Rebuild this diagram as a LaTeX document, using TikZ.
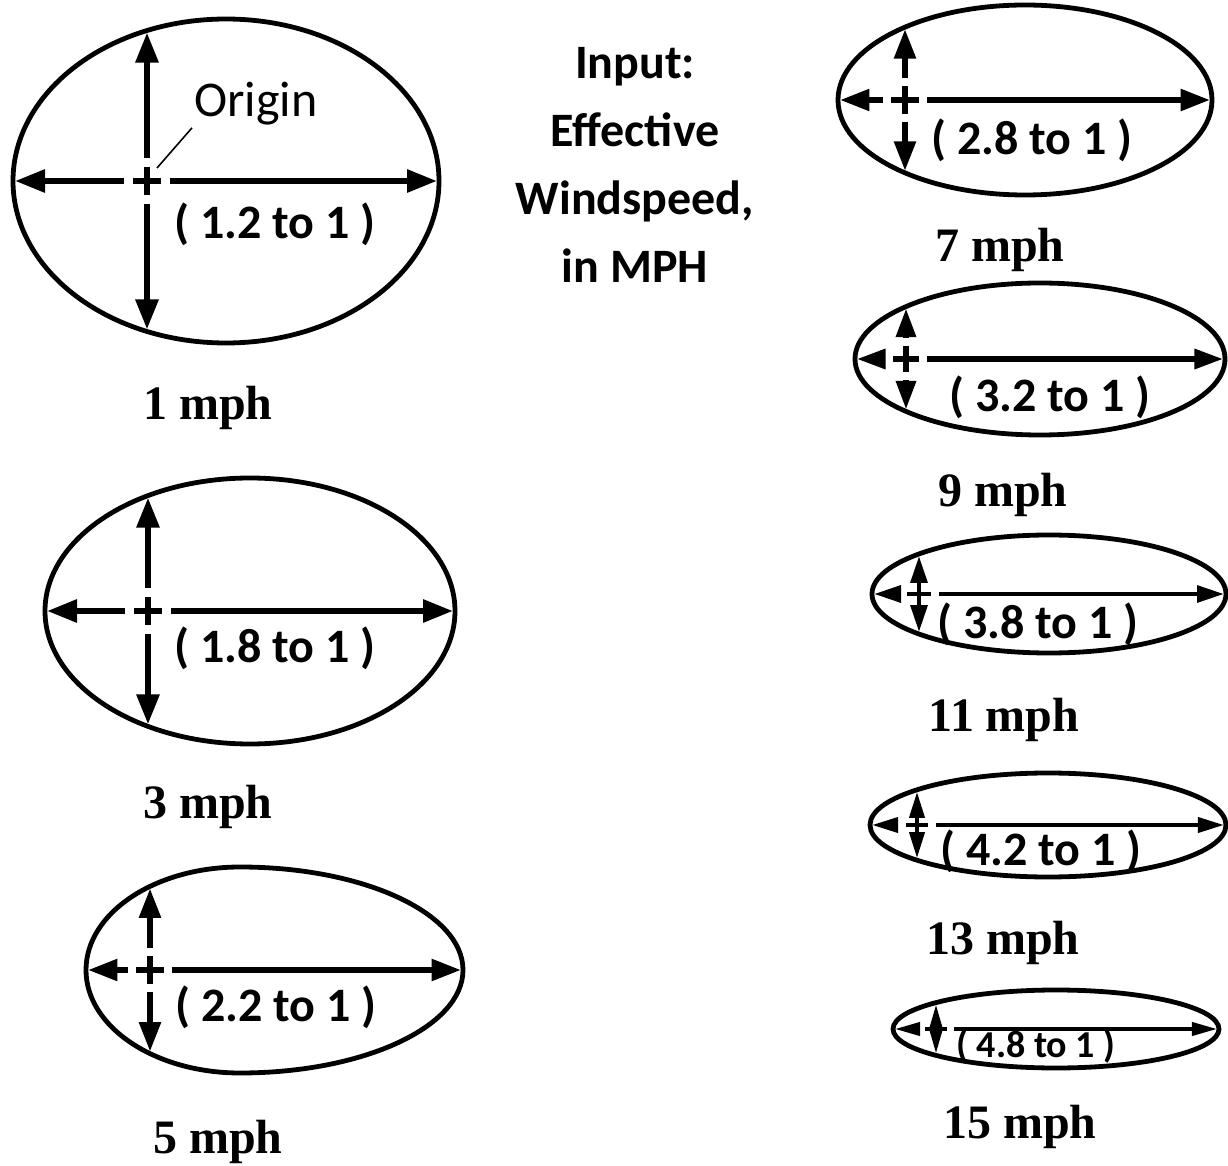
\documentclass[tikz,border=0pt]{standalone}
\usepackage{fontspec}
\setmainfont{Liberation Serif}
\newfontfamily\labfont{Carlito}
\usetikzlibrary{arrows.meta}

\tikzset{
  eggline/.style={line width=2.4pt},
  ratiolab/.style={inner sep=0pt},
  speedlab/.style={font=\bfseries\fontsize{24}{28}\selectfont},
  leader/.style={line width=0.8pt},
}

\begin{document}
\begin{tikzpicture}[x=0.5pt,y=-0.5pt]
\useasboundingbox (0,0) rectangle (1228,1166);
% one egg per windspeed: peak x, centre y, left/right/vertical radius, origin x, size, ratio text, speed text
\foreach \px/\cy/\rl/\rr/\ry/\ox/\s/\tx/\ty/\fs/\ratio/\sx/\sy/\speed [count=\n] in {
  226/181/213/213/162/147/1/275/224/24/( 1.2 to 1 )/208/408/1 mph,
  250/611/205/205/133/148/1/275/648/24/( 1.8 to 1 )/208/807/3 mph,
  240/970/154/223/103/150/0.95/276/1007/24/( 2.2 to 1 )/218/1142/5 mph,
  1025/100/187/187/95/905/0.95/1032/140/24/( 2.8 to 1 )/1000/250/7 mph,
  1040/359/185/185/76/906/0.88/1050/397/24/( 3.2 to 1 )/1003/495/9 mph,
  1049/594/177/177/59/919/0.75/1038/624/24/( 3.8 to 1 )/1004/720/11 mph,
  1048/825/178/178/52/917/0.68/1041/851/24/( 4.2 to 1 )/1003/943/13 mph,
  1056/1029/163/163/39/936/0.6/1036/1046/19/( 4.8 to 1 )/1020/1127/15 mph} {
  \pgfmathsetmacro\hh{\ry*sqrt(1-((\ox-\px)/\rl)^2)-2}
  \pgfmathsetmacro\arm{6+8*\s}
  \pgfmathsetmacro\gp{\arm+4+5*\s}
  \pgfmathsetmacro\lw{3*\s}
  \pgfmathsetmacro\tiplen{15*(0.6+0.4*\s)}
  \pgfmathsetmacro\tipwid{11*\s}
  \draw[eggline] (\px,\cy-\ry) arc[start angle=270,end angle=450,x radius=\rr,y radius=\ry]
    arc[start angle=90,end angle=270,x radius=\rl,y radius=\ry] -- cycle;
  \coordinate (o\n) at (\ox,\cy);
  \coordinate (l\n) at (\px-\rl+2,\cy);
  \coordinate (r\n) at (\px+\rr-2,\cy);
  \coordinate (t\n) at (\ox,\cy-\hh);
  \coordinate (b\n) at (\ox,\cy+\hh);
  \begin{scope}[line width=\lw pt,-{Triangle[length=\tiplen pt,width=\tipwid pt]}]
    \draw (o\n) ++(-\gp,0) -- (l\n);
    \draw (o\n) ++(\gp,0) -- (r\n);
    \draw (o\n) ++(0,-\gp) -- (t\n);
    \draw (o\n) ++(0,\gp) -- (b\n);
  \end{scope}
  % the plus at the origin
  \draw[line width=\lw pt] (o\n) ++(-\arm,0) -- ++(2*\arm,0) (o\n) ++(0,-\arm) -- ++(0,2*\arm);
  \node[ratiolab,font=\labfont\bfseries\fontsize{\fs}{\fs}\selectfont] (ratio\n) at (\tx,\ty) {\ratio};
  \node[speedlab] (speed\n) at (\sx,\sy) {\speed};
}
\node[inner sep=1pt,font=\labfont\fontsize{25}{28}\selectfont] (originlab) at (256,104) {Origin};
\draw[leader] (o1) ++(10,-13) -- (originlab.south west);
\node[align=center,font=\labfont\bfseries\fontsize{24}{34}\selectfont] (input) at (635,165) {Input:\\Effective\\Windspeed,\\in MPH};
\end{tikzpicture}
\end{document}
